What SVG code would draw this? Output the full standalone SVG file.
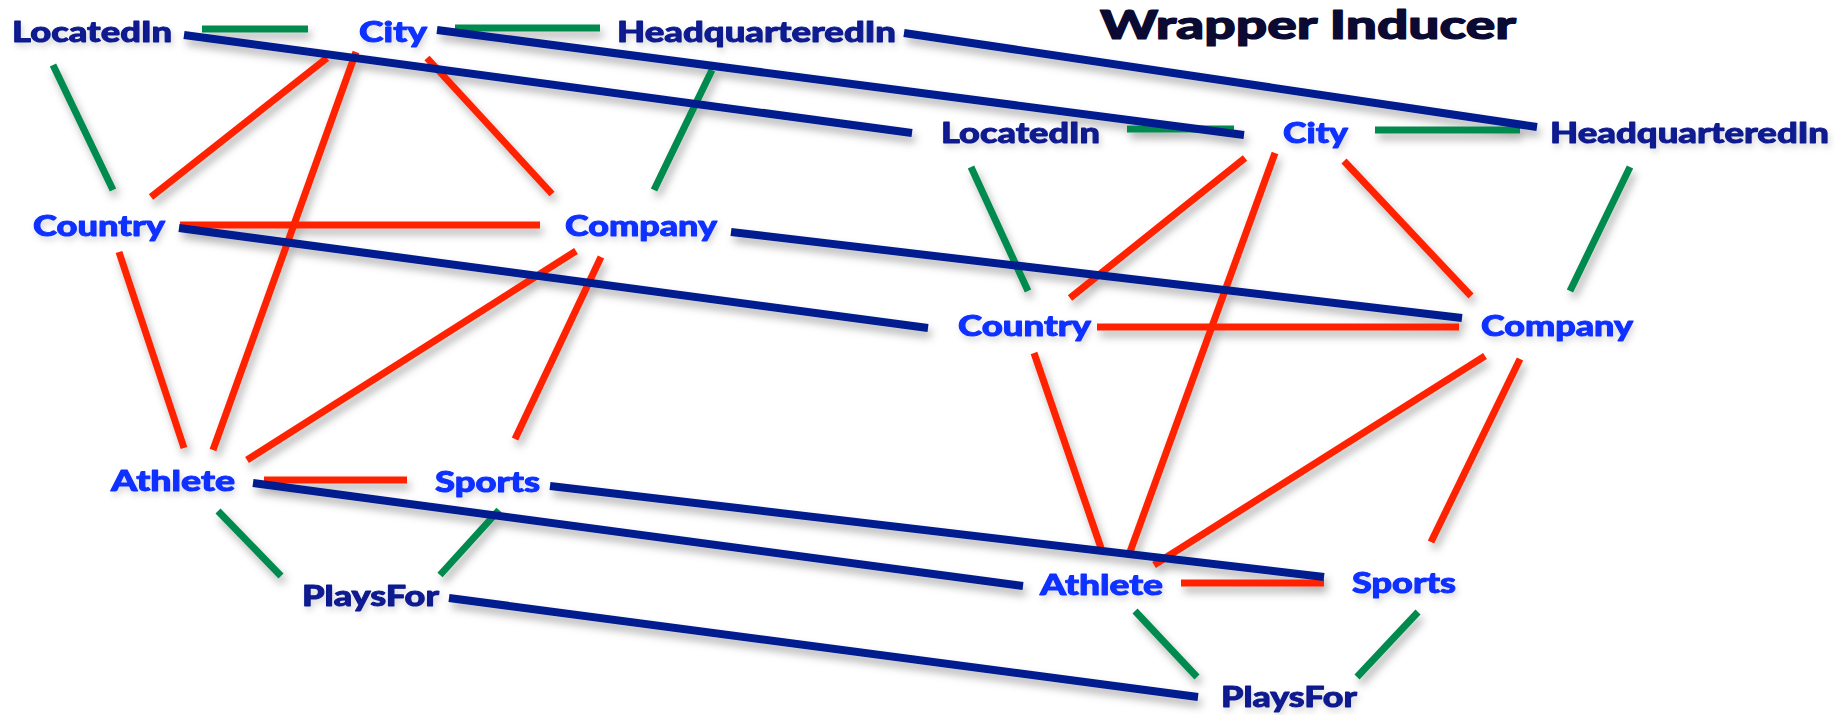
<svg xmlns="http://www.w3.org/2000/svg" width="1837" height="715" viewBox="0 0 1837 715">
<defs>
<style>
.lbl{font-family:Lato,"Open Sans","Liberation Sans",sans-serif;font-weight:900;font-size:28px;stroke-width:0.9px;stroke-linejoin:round}
.navy{fill:#0c1a8e;stroke:#0c1a8e}
.blue{fill:#1030ff;stroke:#1030ff}
.title{font-family:Lato,"Open Sans","Liberation Sans",sans-serif;font-weight:900;font-size:40px;fill:#0a0a33;stroke:#0a0a33;stroke-width:1.2px;stroke-linejoin:round}
.g{stroke:#008a4e;stroke-width:7;fill:none}
.r{stroke:#ff2200;stroke-width:7;fill:none}
.b{stroke:#001a8e;stroke-width:8;fill:none}
</style>
<filter id="sh" x="-10%" y="-10%" width="130%" height="140%">
<feDropShadow dx="3" dy="6" stdDeviation="4" flood-color="#000" flood-opacity="0.3"/>
</filter>
<filter id="tsh" x="-10%" y="-20%" width="130%" height="160%">
<feDropShadow dx="2" dy="4" stdDeviation="3" flood-color="#000" flood-opacity="0.15"/>
</filter>
</defs>
<rect width="1837" height="715" fill="#ffffff"/>

<g id="connectors" filter="url(#sh)">
<g id="green">
<line class="g" x1="202" y1="29" x2="308" y2="29"/>
<line class="g" x1="455" y1="28" x2="600" y2="28"/>
<line class="g" x1="53" y1="65" x2="113" y2="190"/>
<line class="g" x1="712" y1="70" x2="654" y2="190"/>
<line class="g" x1="218" y1="511" x2="281" y2="576"/>
<line class="g" x1="499" y1="510" x2="440" y2="575"/>
<line class="g" x1="1127" y1="129" x2="1234" y2="129"/>
<line class="g" x1="1375" y1="130" x2="1520" y2="130"/>
<line class="g" x1="971" y1="167" x2="1028" y2="291"/>
<line class="g" x1="1630" y1="167" x2="1570" y2="291"/>
<line class="g" x1="1135" y1="611" x2="1197" y2="677"/>
<line class="g" x1="1418" y1="612" x2="1357" y2="677"/>
</g>
<g id="red">
<line class="r" x1="327" y1="58" x2="151" y2="197"/>
<line class="r" x1="356" y1="52" x2="213" y2="450"/>
<line class="r" x1="427" y1="58" x2="552" y2="194"/>
<line class="r" x1="180" y1="225" x2="540" y2="225"/>
<line class="r" x1="119" y1="252" x2="184" y2="448"/>
<line class="r" x1="576" y1="251" x2="247" y2="460"/>
<line class="r" x1="601" y1="257" x2="515" y2="439"/>
<line class="r" x1="264" y1="480" x2="407" y2="480"/>
<line class="r" x1="1245" y1="158" x2="1070" y2="298"/>
<line class="r" x1="1275" y1="153" x2="1130" y2="552"/>
<line class="r" x1="1344" y1="161" x2="1471" y2="296"/>
<line class="r" x1="1097" y1="327" x2="1459" y2="327"/>
<line class="r" x1="1034" y1="353" x2="1101" y2="548"/>
<line class="r" x1="1485" y1="356" x2="1154" y2="565"/>
<line class="r" x1="1520" y1="359" x2="1431" y2="542"/>
<line class="r" x1="1181" y1="583" x2="1324" y2="583"/>
</g>
<g id="blue">
<line class="b" x1="184" y1="35" x2="912" y2="133"/>
<line class="b" x1="437" y1="30" x2="1244" y2="135"/>
<line class="b" x1="904" y1="33" x2="1537" y2="127"/>
<line class="b" x1="179" y1="228" x2="928" y2="328"/>
<line class="b" x1="731" y1="232" x2="1462" y2="318"/>
<line class="b" x1="253" y1="483" x2="1023" y2="586"/>
<line class="b" x1="550" y1="486" x2="1324" y2="577"/>
<line class="b" x1="449" y1="598" x2="1198" y2="697"/>
</g>
</g>

<g id="title"><text class="title" x="1100" y="39" textLength="416" lengthAdjust="spacingAndGlyphs">Wrapper Inducer</text></g>

<g id="nodes" filter="url(#tsh)">
<g id="l-locatedin"><text class="lbl navy" x="12" y="42" textLength="160" lengthAdjust="spacingAndGlyphs">LocatedIn</text></g>
<g id="l-city"><text class="lbl blue" x="359" y="42" textLength="68" lengthAdjust="spacingAndGlyphs">City</text></g>
<g id="l-hq"><text class="lbl navy" x="617" y="42" textLength="279" lengthAdjust="spacingAndGlyphs">HeadquarteredIn</text></g>
<g id="l-country"><text class="lbl blue" x="33" y="236" textLength="132" lengthAdjust="spacingAndGlyphs">Country</text></g>
<g id="l-company"><text class="lbl blue" x="565" y="236" textLength="152" lengthAdjust="spacingAndGlyphs">Company</text></g>
<g id="l-athlete"><text class="lbl blue" x="111" y="491" textLength="124" lengthAdjust="spacingAndGlyphs">Athlete</text></g>
<g id="l-sports"><text class="lbl blue" x="435" y="492" textLength="105" lengthAdjust="spacingAndGlyphs">Sports</text></g>
<g id="l-playsfor"><text class="lbl navy" x="302" y="606" textLength="137" lengthAdjust="spacingAndGlyphs">PlaysFor</text></g>

<g id="r-locatedin"><text class="lbl navy" x="941" y="143" textLength="159" lengthAdjust="spacingAndGlyphs">LocatedIn</text></g>
<g id="r-city"><text class="lbl blue" x="1283" y="143" textLength="65" lengthAdjust="spacingAndGlyphs">City</text></g>
<g id="r-hq"><text class="lbl navy" x="1550" y="143" textLength="279" lengthAdjust="spacingAndGlyphs">HeadquarteredIn</text></g>
<g id="r-country"><text class="lbl blue" x="958" y="336" textLength="133" lengthAdjust="spacingAndGlyphs">Country</text></g>
<g id="r-company"><text class="lbl blue" x="1481" y="336" textLength="152" lengthAdjust="spacingAndGlyphs">Company</text></g>
<g id="r-athlete"><text class="lbl blue" x="1040" y="595" textLength="123" lengthAdjust="spacingAndGlyphs">Athlete</text></g>
<g id="r-sports"><text class="lbl blue" x="1352" y="593" textLength="104" lengthAdjust="spacingAndGlyphs">Sports</text></g>
<g id="r-playsfor"><text class="lbl navy" x="1221" y="707" textLength="136" lengthAdjust="spacingAndGlyphs">PlaysFor</text></g>
</g>
</svg>
